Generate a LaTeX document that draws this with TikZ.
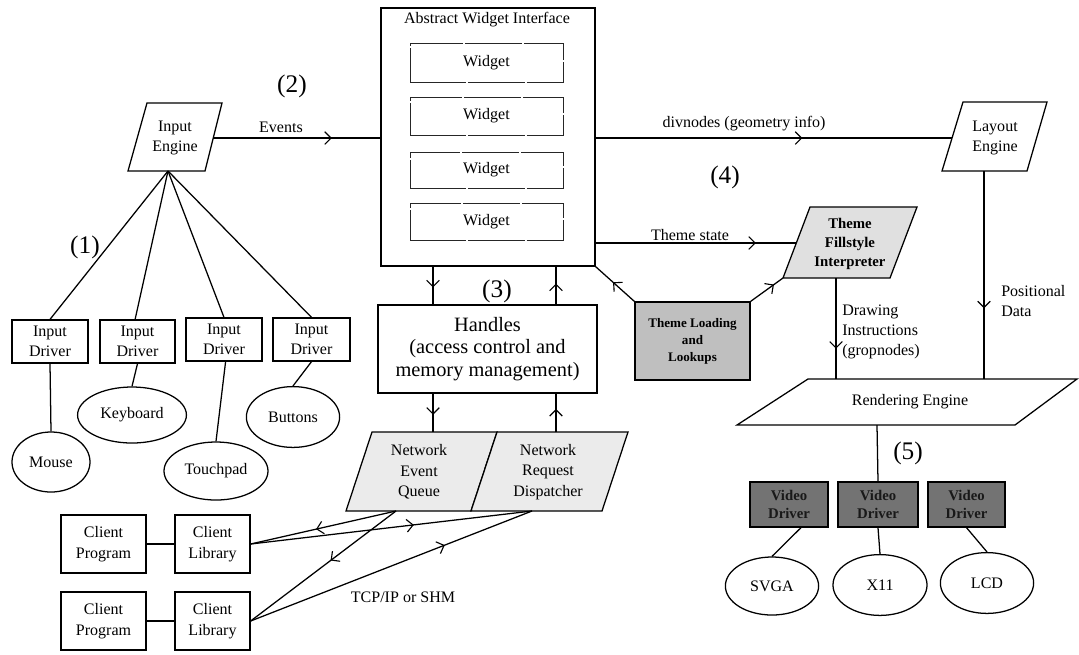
\documentclass[tikz,border=0pt]{standalone}
\usepackage{fontspec}
\setmainfont{Liberation Serif}
\usetikzlibrary{shapes.geometric,arrows.meta,decorations.markings}
\newcommand{\fmain}{\fontsize{11.4}{14.5}\selectfont}
\newcommand{\fhand}{\fontsize{14.5}{16}\selectfont}
\newcommand{\ftfi}{\fontsize{10.5}{13.5}\selectfont\bfseries}
\newcommand{\ftl}{\fontsize{9.3}{12}\selectfont\bfseries}
\newcommand{\fnum}{\fontsize{18}{20}\selectfont}
% box from pixel corners: [style]{name}{x1}{y1}{x2}{y2}{text}
\newcommand{\bx}[7][]{\node[boxn,#1,minimum width={(#5-#3)*0.025cm},minimum height={(#6-#4)*0.025cm}] (#2) at ({(#3+#5)/2},{(#4+#6)/2}) {#7};}
\tikzset{
  ln/.style={line width=0.9pt},
  midarr/.style={postaction={decorate},decoration={markings,
     mark=at position #1 with {\arrow[line width=0.8pt]{Straight Barb[length=4.5pt,width=9pt]}}}},
  boxn/.style={draw, line width=0.9pt, inner sep=0pt, align=center, font=\fmain},
  widbox/.style={draw=black!85, line width=0.7pt, dash pattern=on 40pt off 1.5pt},
  txt/.style={inner sep=0pt, align=center, font=\fmain},
  ell/.style={draw, ellipse, line width=0.9pt, inner sep=0pt, font=\fmain},
  num/.style={inner sep=0pt, font=\fnum},
  vdbox/.style={fill=black!55, font=\fontsize{10.5}{13}\selectfont\bfseries, text=black!90},
}
\begin{document}
\begin{tikzpicture}[x=0.025cm,y=-0.025cm]
\path[use as bounding box] (0,0) rectangle (1079,654);

% ---------- Input engine ----------
\draw[ln] (147,103) -- (222,103) -- (205,171) -- (128,171) -- cycle;
\node[txt] (ie) at (175,138) {Input\\Engine};
\coordinate (ie-r) at (213,138);
\coordinate (ie-b) at (168,171);

% ---------- Abstract Widget Interface ----------
\bx{awi}{381}{8}{595}{266}{}
\node[txt] (awit) at (487,20) {Abstract Widget Interface};
\bx[widbox]{w1}{410}{43}{563}{82}{Widget}
\bx[widbox]{w2}{410}{97}{563}{135}{Widget}
\bx[widbox]{w3}{410}{152}{563}{188}{Widget}
\bx[widbox]{w4}{410}{203}{563}{240}{Widget}

\draw[ln, midarr=0.71] (ie-r) -- (awi.west |- ie-r);
\node[txt] (ev) at (281,127) {Events};
\node[num] (n2) at (292,86) {(2)};

% ---------- Layout engine ----------
\draw[ln] (963,102) -- (1047,102) -- (1027,171) -- (942,171) -- cycle;
\node[txt] (le) at (995,138) {Layout\\Engine};
\coordinate (le-l) at (952,138);
\coordinate (le-b) at (984,171);
\draw[ln, midarr=0.58] (awi.east |- le-l) -- (le-l);
\node[txt] (dv) at (744,124) {divnodes (geometry info)};
\node[num] (n4) at (725,177) {(4)};

% ---------- Theme fillstyle interpreter ----------
\draw[ln, fill=black!12] (810,207) -- (917,207) -- (890,278) -- (783,278) -- cycle;
\node[txt, font=\ftfi] (tfi) at (850,244) {Theme\\Fillstyle\\Interpreter};
\coordinate (tfi-l) at (796,243);
\coordinate (tfi-bl) at (783,278);
\coordinate (tfi-b) at (836,278);
\draw[ln, midarr=0.8] (awi.east |- tfi-l) -- (tfi-l);
\node[txt] (ts) at (690,235) {Theme state};

% ---------- Theme loading ----------
\bx[fill=black!25, font=\ftl]{tl}{635}{302}{750}{380}{Theme Loading\\and\\Lookups}
\draw[ln, midarr=0.55] (tl.north west) -- (awi.south east);
\draw[ln, midarr=0.72] (tl.north east) -- (tfi-bl);

% ---------- Handles ----------
\bx[font=\fhand]{hd}{378}{305}{597}{393}{Handles\\(access control and\\memory management)}
\coordinate (xl) at (433,0);
\coordinate (xr) at (556,0);
\draw[ln, midarr=0.55] (awi.south -| xl) -- (hd.north -| xl);
\draw[ln, midarr=0.55] (hd.north -| xr) -- (awi.south -| xr);
\node[num] (n3) at (497,291) {(3)};

% ---------- Network ----------
\draw[ln, fill=black!8] (372,432) -- (497,432) -- (471,511) -- (346,511) -- cycle;
\draw[ln, fill=black!8] (497,432) -- (628,432) -- (602,511) -- (471,511) -- cycle;
\node[txt] (neq) at (419,472) {Network\\Event\\Queue};
\node[txt] (nrd) at (548,472) {Network\\Request\\Dispatcher};
\coordinate (neq-t) at (433,432);
\coordinate (nrd-t) at (556,432);
\coordinate (neq-b) at (396,511);
\coordinate (nrd-b) at (532,511);
\draw[ln, midarr=0.55] (hd.south -| neq-t) -- (neq-t);
\draw[ln, midarr=0.6] (nrd-t) -- (hd.south -| nrd-t);

% ---------- Clients ----------
\bx{cp1}{61}{515}{146}{573}{Client\\Program}
\bx{cl1}{175}{515}{250}{573}{Client\\Library}
\bx{cp2}{61}{592}{146}{650}{Client\\Program}
\bx{cl2}{175}{592}{250}{650}{Client\\Library}
\draw[ln] (cl1.west) -- (cp1.east);
\draw[ln] (cl2.west) -- (cp2.east);
\draw[ln, midarr=0.55] (neq-b) -- (cl1.east);
\draw[ln, midarr=0.58] (cl1.east) -- (nrd-b);
\draw[ln, midarr=0.45] (neq-b) -- (cl2.east);
\draw[ln, midarr=0.69] (cl2.east) -- (nrd-b);
\node[txt] (tcp) at (403,597) {TCP/IP or SHM};

% ---------- Input drivers ----------
\bx{id1}{12}{320}{88}{363}{Input\\Driver}
\bx{id2}{100}{320}{175}{363}{Input\\Driver}
\bx{id3}{186}{318}{262}{361}{Input\\Driver}
\bx{id4}{273}{318}{350}{361}{Input\\Driver}
\draw[ln] (ie-b) -- (id1.north);
\draw[ln] (ie-b) -- ([xshift=-0.6mm]id2.north);
\draw[ln] (ie-b) -- (id3.north);
\draw[ln] (ie-b) -- (id4.north);
\node[num] (n1) at (85,247) {(1)};

\node[ell, minimum width=1.95cm, minimum height=1.5cm] (mouse) at (51,462) {Mouse};
\node[ell, minimum width=2.72cm, minimum height=1.4cm] (kbd) at (132,415) {Keyboard};
\node[ell, minimum width=2.6cm, minimum height=1.45cm] (tp) at (216,471) {Touchpad};
\node[ell, minimum width=2.33cm, minimum height=1.52cm] (btn) at (293,417) {Buttons};
\draw[ln] (id1.south) -- (mouse.north);
\draw[ln] (id2.south) -- (kbd.north);
\draw[ln] ([xshift=0.4mm]id3.south) -- (tp.north);
\draw[ln] (id4.south) -- (btn.north);

% ---------- Rendering ----------
\draw[ln] (808,379) -- (1077,379) -- (1015,425) -- (737,425) -- cycle;
\node[txt] (re) at (910,402) {Rendering Engine};
\coordinate (re-t1) at (836,379);
\coordinate (re-t2) at (984,379);
\coordinate (re-b) at (877,425);
\draw[ln, midarr=0.66] (le-b) -- (re-t2);
\node[txt, align=left, anchor=west] (pd) at (1001,301) {Positional\\Data};
\draw[ln, midarr=0.7] (tfi-b) -- (re-t1);
\node[txt, align=left, anchor=west] (di) at (842,332) {Drawing\\Instructions\\(gropnodes)};

% ---------- Video drivers ----------
\bx[vdbox]{vd1}{750}{482}{828}{527}{Video\\Driver}
\bx[vdbox]{vd2}{838}{482}{918}{527}{Video\\Driver}
\bx[vdbox]{vd3}{928}{482}{1005}{527}{Video\\Driver}
\draw[ln] (re-b) -- (vd2.north);
\node[num] (n5) at (908,453) {(5)};

\node[ell, minimum width=2.33cm, minimum height=1.45cm] (svga) at (772,586) {SVGA};
\node[ell, minimum width=2.35cm, minimum height=1.52cm] (x11) at (880,585) {X11};
\node[ell, minimum width=2.33cm, minimum height=1.52cm] (lcd) at (987,583) {LCD};
\draw[ln] ([xshift=0.3cm]vd1.south) -- (svga.north);
\draw[ln] (vd2.south) -- (x11.north);
\draw[ln] (vd3.south) -- (lcd.north);
\end{tikzpicture}
\end{document}
